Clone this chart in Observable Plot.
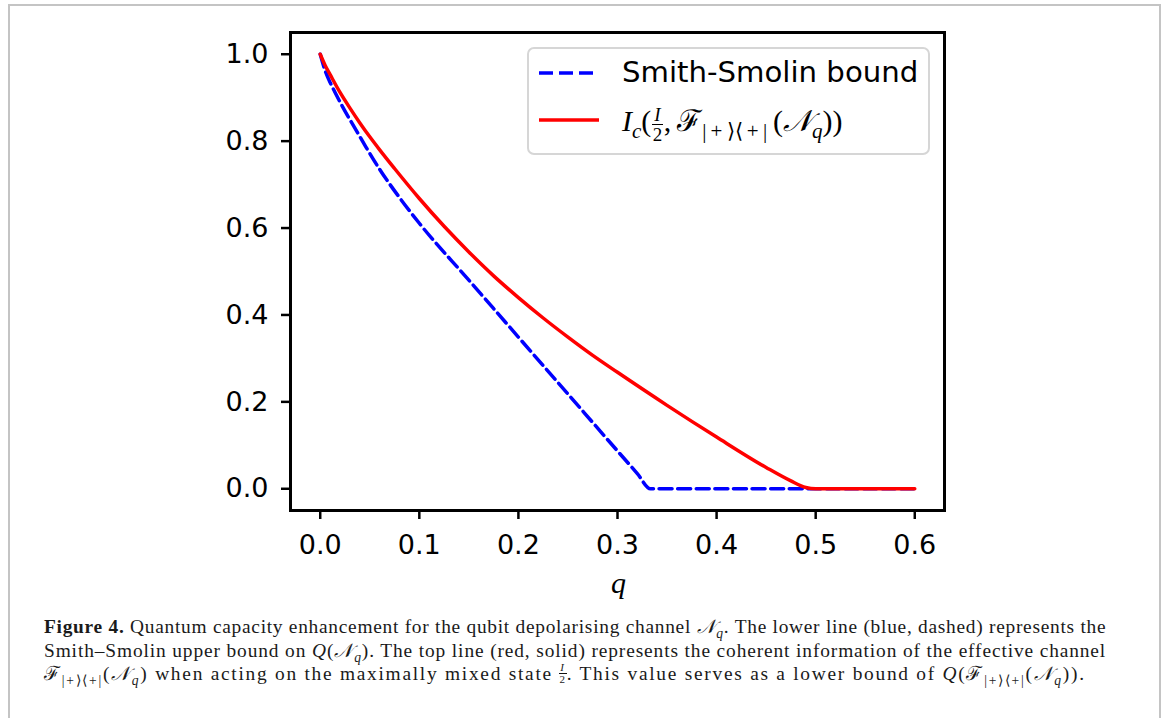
<!DOCTYPE html>
<html>
<head>
<meta charset="utf-8">
<script src="https://cdn.jsdelivr.net/npm/d3@7"></script>
<script src="https://cdn.jsdelivr.net/npm/@observablehq/plot@0.6"></script>
<style>
  html, body { margin: 0; padding: 0; background: #fff; }
  #page { position: relative; width: 1167px; height: 718px; overflow: hidden; }
  #border { position: absolute; left: 8px; top: 4px; width: 1153px; height: 760px; border: 2px solid #c4c4c4; box-sizing: border-box; }
  #chart { position: absolute; left: 0; top: 0; }
  #legend { position: absolute; left: 527px; top: 47px; width: 403px; height: 108px; box-sizing: border-box;
            border: 2px solid #d6d6d6; border-radius: 7px; background: rgba(255,255,255,0.8); }
  .lg-row { position: absolute; left: 0; width: 100%; height: 40px; }
  .lg-row svg { position: absolute; left: 8px; top: 0; }
  .lg-text { position: absolute; left: 93px; white-space: nowrap; }
  #xlabel { position: absolute; left: 611px; top: 566px; font-family: "Liberation Serif", serif; font-style: italic; font-size: 30px; }
  #caption { position: absolute; left: 44px; top: 615px; font-family: "Liberation Serif", serif; font-size: 19.4px; color: #1a1a1a; }
  #caption div { white-space: nowrap; height: 23.5px; line-height: 23.5px; }
  .m { font-style: italic; }
  .sub { font-size: 0.7em; vertical-align: -0.35em; line-height: 0; }
  .frac { display: inline-block; vertical-align: middle; text-align: center; line-height: 1; }
  .frac span { display: block; }
</style>
</head>
<body>
<div id="page">
  <div id="border"></div>
  <div id="chart"></div>
  <div id="legend">
    <div class="lg-row" style="top:4px">
      <svg width="70" height="40"><line x1="2" x2="62" y1="20" y2="20" stroke="#0000ff" stroke-width="3.5" stroke-dasharray="14,6"/></svg>
      <div class="lg-text" style="top:2px;font-family:'DejaVu Sans';font-size:29.2px;">Smith-Smolin bound</div>
    </div>
    <div class="lg-row" style="top:51px">
      <svg width="70" height="40"><line x1="2" x2="62" y1="20" y2="20" stroke="#ff0000" stroke-width="3.5"/></svg>
      <div class="lg-text" style="top:-1px;font-family:'Liberation Serif';font-size:30px;">
        <span class="m">I</span><span class="sub m">c</span>(<span class="frac" style="font-size:19px;margin:0 1px"><span class="m" style="border-bottom:1.3px solid #000;padding:0 2px">I</span><span>2</span></span>,&#8201;ℱ<span class="sub">|&#8201;+&#8201;⟩⟨&#8201;+&#8201;|</span>&#8201;(<span class="m">𝒩</span><span class="sub m">q</span>))
      </div>
    </div>
  </div>
  <div id="xlabel">q</div>
  <div id="caption">
    <div id="c1"><b>Figure 4.</b> Quantum capacity enhancement for the qubit depolarising channel <span class="m">𝒩</span><span class="sub m">q</span>. The lower line (blue, dashed) represents the</div>
    <div id="c2">Smith–Smolin upper bound on <span class="m">Q</span>(<span class="m">𝒩</span><span class="sub m">q</span>). The top line (red, solid) represents the coherent information of the effective channel</div>
    <div id="c3">ℱ<span class="sub">|+⟩⟨+|</span>(<span class="m">𝒩</span><span class="sub m">q</span>) when acting on the maximally mixed state <span class="frac" style="font-size:11px;vertical-align:-3px"><span class="m" style="border-bottom:1px solid #111">I</span><span>2</span></span>. This value serves as a lower bound of <span class="m">Q</span>(ℱ<span class="sub">|+⟩⟨+|</span>(<span class="m">𝒩</span><span class="sub m">q</span>)).</div>
  </div>
</div>
<script>
// ---- data ----
const xTicks = [0.0, 0.1, 0.2, 0.3, 0.4, 0.5, 0.6];
const yTicks = [0.0, 0.2, 0.4, 0.6, 0.8, 1.0];

// Smith-Smolin bound (blue, dashed)
const boundQ = [0, 0.005, 0.01, 0.015, 0.025, 0.035, 0.046, 0.06, 0.08, 0.1, 0.15, 0.2, 0.25, 0.3, 0.32, 0.3333, 0.34, 0.4, 0.5, 0.6];
const boundV = [1.0, 0.962, 0.935, 0.912, 0.869, 0.83, 0.787, 0.735, 0.67, 0.611, 0.480, 0.349, 0.218, 0.087, 0.035, 0.0, 0.0, 0.0, 0.0, 0.0];

// Coherent information I_c (red, solid)
const icQ = [0, 0.005, 0.01, 0.02, 0.03, 0.04, 0.05, 0.06, 0.075, 0.1, 0.125, 0.15, 0.175, 0.2, 0.225, 0.25, 0.275, 0.3, 0.35, 0.4, 0.45, 0.475, 0.49, 0.5, 0.55, 0.6];
const icV = [1.0, 0.974, 0.953, 0.912, 0.876, 0.842, 0.810, 0.780, 0.737, 0.668, 0.604, 0.545, 0.490, 0.440, 0.393, 0.349, 0.307, 0.268, 0.192, 0.119, 0.049, 0.018, 0.003, 0.0, 0.0, 0.0];

const bound = boundQ.map((q, i) => ({q, v: boundV[i]}));
const ic = icQ.map((q, i) => ({q, v: icV[i]}));

const W = 1167, H = 600;
const chart = Plot.plot({
  width: W,
  height: H,
  marginLeft: 290,
  marginRight: 223,
  marginTop: 32,
  marginBottom: 90,
  style: {fontFamily: "DejaVu Sans", fontSize: "27px", color: "black", background: "transparent", overflow: "visible"},
  x: {domain: [-0.03, 0.63]},
  y: {domain: [-0.05, 1.05]},
  marks: [
    Plot.line(bound, {x: "q", y: "v", stroke: "#0000ff", strokeWidth: 3.5, strokeDasharray: "13,5.6", curve: "monotone-x"}),
    Plot.line(ic, {x: "q", y: "v", stroke: "#ff0000", strokeWidth: 3.5, curve: "monotone-x"}),
    Plot.frame({stroke: "black", strokeWidth: 3}),
    Plot.axisX({ticks: xTicks, tickFormat: d => d.toFixed(1), tickSize: 9, tickPadding: 15, strokeWidth: 2.5, fontSize: 27, label: null}),
    Plot.axisY({ticks: yTicks, tickFormat: d => d.toFixed(1), tickSize: 9, tickPadding: 13, strokeWidth: 2.5, fontSize: 27, label: null})
  ]
});
document.getElementById("chart").appendChild(chart);

// fit caption lines to the widths of the reference lines (small letter spacing)
const targets = {c1: 1063, c2: 1063, c3: 1047};
for (const id in targets) {
  const el = document.getElementById(id);
  el.style.display = "inline-block";
  const w = el.getBoundingClientRect().width;
  const chars = el.textContent.trim().length;
  el.style.letterSpacing = ((targets[id] - w) / Math.max(chars, 1)) + "px";
  el.style.display = "block";
}
</script>
</body>
</html>
